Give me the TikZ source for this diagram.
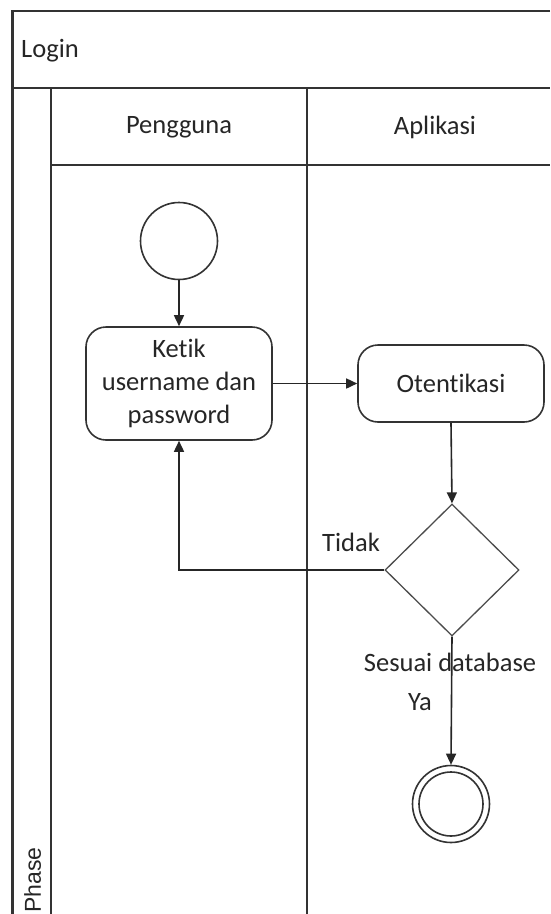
\documentclass[tikz,border=0pt]{standalone}
\usepackage{fontspec}
\setmainfont{Carlito}[Ligatures={NoCommon,NoContextual}]
\newfontfamily\phasefont{Liberation Sans}
\usetikzlibrary{shapes.geometric,arrows.meta}
\begin{document}
\begin{tikzpicture}[x=1pt,y=-1pt,
  frame/.style={draw=black!80,line width=2.2pt},
  lbl/.style={font=\fontsize{26.5}{33}\selectfont,text=black!85,inner sep=0pt},
  actbox/.style={draw=black!80,line width=1.6pt,rounded corners=20pt,align=center,
    font=\fontsize{26.5}{33}\selectfont,text=black!85,inner sep=0pt},
  startev/.style={circle,draw=black!80,line width=1.6pt,minimum size=77pt,inner sep=0pt},
  gate/.style={diamond,draw=black!70,line width=1.3pt,minimum width=134pt,minimum height=132pt,inner sep=0pt},
  flow/.style={draw=black!85,line width=1.6pt,-{Triangle[length=11pt,width=10pt]}}]
\useasboundingbox (0,0) rectangle (550,914);
\fill[white] (0,0) rectangle (550,914);
% pool frame
\draw[frame] (550,11) -- (12.5,11) -- (12.5,914);
\draw[frame] (12.5,88) -- (550,88);
\draw[frame] (51,88) -- (51,914);
\draw[frame] (51,165) -- (550,165);
\draw[frame] (307,88) -- (307,914);
% headers
\node[lbl,anchor=west] (pool) at (21,51) {Login};
\node[lbl] (lane1) at (179,127) {Pengguna};
\node[lbl] (lane2) at (435,127) {Aplikasi};
\node[font=\phasefont\fontsize{23}{27}\selectfont,text=black!85,rotate=90,anchor=base west,inner sep=0pt] (phase) at (41,913) {Phase};
% flow nodes
\node[startev] (start) at (179,241) {};
\node[actbox,minimum width=186pt,minimum height=113pt] (ketik) at (179,383.5) {Ketik\\username dan\\password};
\node[actbox,minimum width=186pt,minimum height=77pt] (oten) at (451,383.5) {Otentikasi};
\node[gate] (dec) at (452,570) {};
\node[startev] (end) at (451,804) {};
\draw[black!80,line width=1.6pt] (end.center) circle[radius=32pt];
% connectors
\draw[flow] (start.south) -- (ketik.north);
\draw[flow] (ketik.east) -- (oten.west);
\draw[flow] (oten.south) -- (dec.north);
\draw[flow] (dec.west) -| (ketik.south);
\draw[flow] (dec.south) -- (end.north);
% labels
\node[lbl] (tidak) at (351,542) {Tidak};
\node[lbl] (sesuai) at (450,662) {Sesuai database};
\node[lbl] (ya) at (420,702) {Ya};
\end{tikzpicture}
\end{document}
